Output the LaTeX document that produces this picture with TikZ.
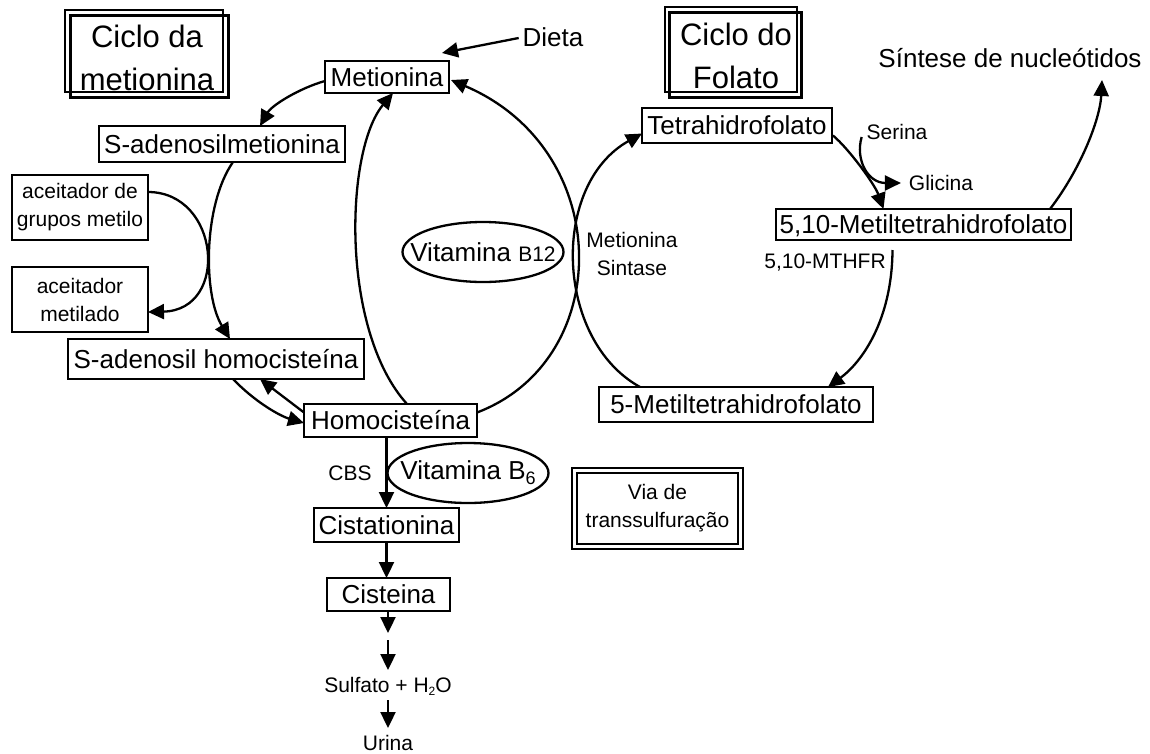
\documentclass[tikz,border=0pt]{standalone}
\usepackage{fontspec}
\setmainfont{Liberation Sans}
\usetikzlibrary{arrows.meta,shapes.geometric}
\begin{document}
\begin{tikzpicture}[x=1pt,y=-1pt,
 every node/.style={inner sep=0pt, outer sep=0pt},
 big/.style={font=\fontsize{26}{30}\selectfont},
 small/.style={font=\fontsize{21}{28}\selectfont},
 lin/.style={line width=2.3pt},
 titlebox/.style={draw, line width=2.3pt},
 titletext/.style={font=\fontsize{31}{43}\selectfont, align=center},
 box/.style={big, draw, line width=2.3pt, text height=18.5pt, text depth=0pt},
 sbox/.style={small, draw, line width=2.3pt, align=center, minimum width=136pt, minimum height=65pt},
 ell/.style={big, draw, ellipse, line width=2.3pt, minimum width=161pt, minimum height=60pt},
 arr/.style={line width=2.3pt, -{Triangle[length=16pt,width=15pt]}},
]
\fill[white] (0,0) rectangle (1150,753);
\useasboundingbox (0,0) rectangle (1150,753);

% titles
\node[titlebox, minimum width=158pt, minimum height=82pt] (cm) at (144,51) {};
\draw[lin] ([shift={(5.5,5.5)}]cm.north west) rectangle ([shift={(5.5,5.5)}]cm.south east);
\node[titletext] (cmt) at (147,58) {Ciclo da\\metionina};
\node[titlebox, minimum width=132pt, minimum height=85pt] (cf) at (731,49.5) {};
\draw[lin] ([shift={(4.5,5.5)}]cf.north west) rectangle ([shift={(4.5,5.5)}]cf.south east);
\node[titletext] (cft) at (736,56) {Ciclo do\\Folato};
\node[small, align=center, draw, double, line width=1.8pt, double distance=3.2pt, minimum width=165.5pt, minimum height=75.5pt] (via) at (657.5,508.5) {Via de\\transsulfuração};

% methionine cycle
\node[box, minimum width=124pt, minimum height=32pt] (met) at (387,77) {Metionina};
\node[big] (dieta) at (553,37) {Dieta};
\node[box, minimum width=246pt, minimum height=36pt] (sam) at (222,144) {S-adenosilmetionina};
\node[sbox] (acc1) at (80,207.5) {aceitador de\\grupos metilo};
\node[sbox] (acc2) at (80,299.5) {aceitador\\metilado};
\node[box, minimum width=296pt, minimum height=40pt] (sah) at (216,359) {S-adenosil homocisteína};
\node[box, minimum width=173pt, minimum height=33pt] (hcy) at (390.5,420.5) {Homocisteína};
\node[ell] (b12) at (483,252) {\makebox[0pt]{Vitamina {\fontsize{21}{21}\selectfont B12}}};
\node[small, align=center] (ms) at (632,254) {Metionina\\Sintase};

% folate cycle
\node[box, minimum width=190pt, minimum height=35pt] (thf) at (737,125.5) {Tetrahidrofolato};
\node[big] (sint) at (1010,58) {Síntese de nucleótidos};
\node[small] (serina) at (897,132) {Serina};
\node[small] (glicina) at (941,183) {Glicina};
\node[box, minimum width=295pt, minimum height=31pt] (m510) at (923.5,224.5) {5,10-Metiltetrahidrofolato};
\node[small] (mthfr) at (825,263) {5,10-MTHFR};
\node[box, minimum width=274pt, minimum height=35pt] (m5) at (736,404.5) {5-Metiltetrahidrofolato};

% transsulfuration
\node[small] (cbs) at (350,473) {CBS};
\node[ell] (b6) at (468,473) {\makebox[0pt]{Vitamina B\raisebox{-5pt}{\fontsize{18}{18}\selectfont 6}}};
\node[box, minimum width=145pt, minimum height=34pt] (cist) at (386.5,525) {Cistationina};
\node[box, minimum width=123pt, minimum height=33pt] (cys) at (388.5,594.5) {Cisteina};
\node[small, text height=14pt, text depth=0pt, inner sep=8pt] (sulf) at (388,685) {Sulfato + H\raisebox{-3pt}{\fontsize{12}{12}\selectfont 2}O};
\node[small, text height=14pt, text depth=0pt, inner sep=8pt] (urina) at (388,743) {Urina};

\coordinate (sintTip) at (1102,80);
\coordinate (c1) at (388,633);
\coordinate (c2) at (388,640);

% connectors
\draw[arr] ([shift={(-4,1)}]dieta.west) -- ([shift={(-7,-8)}]met.north east);
\draw[arr] ([shift={(0,4)}]met.west) .. controls (300,88) and (272,105) .. ([shift={(38,0)}]sam.north);
\draw[arr] ([shift={(11,0)}]sam.south) .. controls (203,205) and (203,295) .. ([shift={(14,0)}]sah.north);
\draw[arr] ([shift={(0,-15.5)}]acc1.east) .. controls (220,192) and (230,310) .. ([shift={(0,12.5)}]acc2.east);
\draw[arr] ([shift={(17,0)}]sah.south) .. controls (255,402) and (280,416) .. ([shift={(0,2.5)}]hcy.west);
\draw[arr] ([shift={(0,-8)}]hcy.west) -- ([shift={(44,0)}]sah.south);
\draw[arr] ([shift={(16.5,0)}]hcy.north) .. controls (340,330) and (345,150) .. ([shift={(6,0)}]met.south);
\draw[arr] ([shift={(0,-8)}]hcy.east) .. controls (615,360) and (615,150) .. ([shift={(2,3)}]met.east);
\draw[arr] ([shift={(-96,0)}]m5.north) .. controls (555,340) and (550,185) .. ([shift={(0,8)}]thf.west);
\draw[arr] ([shift={(1,10)}]thf.east) .. controls (850,150) and (875,185) .. ([shift={(-40,0)}]m510.north);
\draw[arr] ([shift={(-5,5)}]serina.west) .. controls (855,160) and (868,183) .. ([shift={(-8,0)}]glicina.west);
\draw[arr] ([shift={(-21,0)}]m510.north east) .. controls (1080,170) and (1100,120) .. (sintTip);
\draw[arr] ([shift={(-31,10)}]m510.south) .. controls (892,320) and (862,362) .. ([shift={(-45,0)}]m5.north east);
\draw[arr] (hcy.south -| cist.north) -- (cist.north);
\draw[arr] (cist.south) -- (cist.south |- cys.north);
\draw[arr] (cys.south -| c1) -- (c1);
\draw[arr] (c2) -- (sulf.north);
\draw[arr] (sulf.south) -- (urina.north);
\end{tikzpicture}
\end{document}
